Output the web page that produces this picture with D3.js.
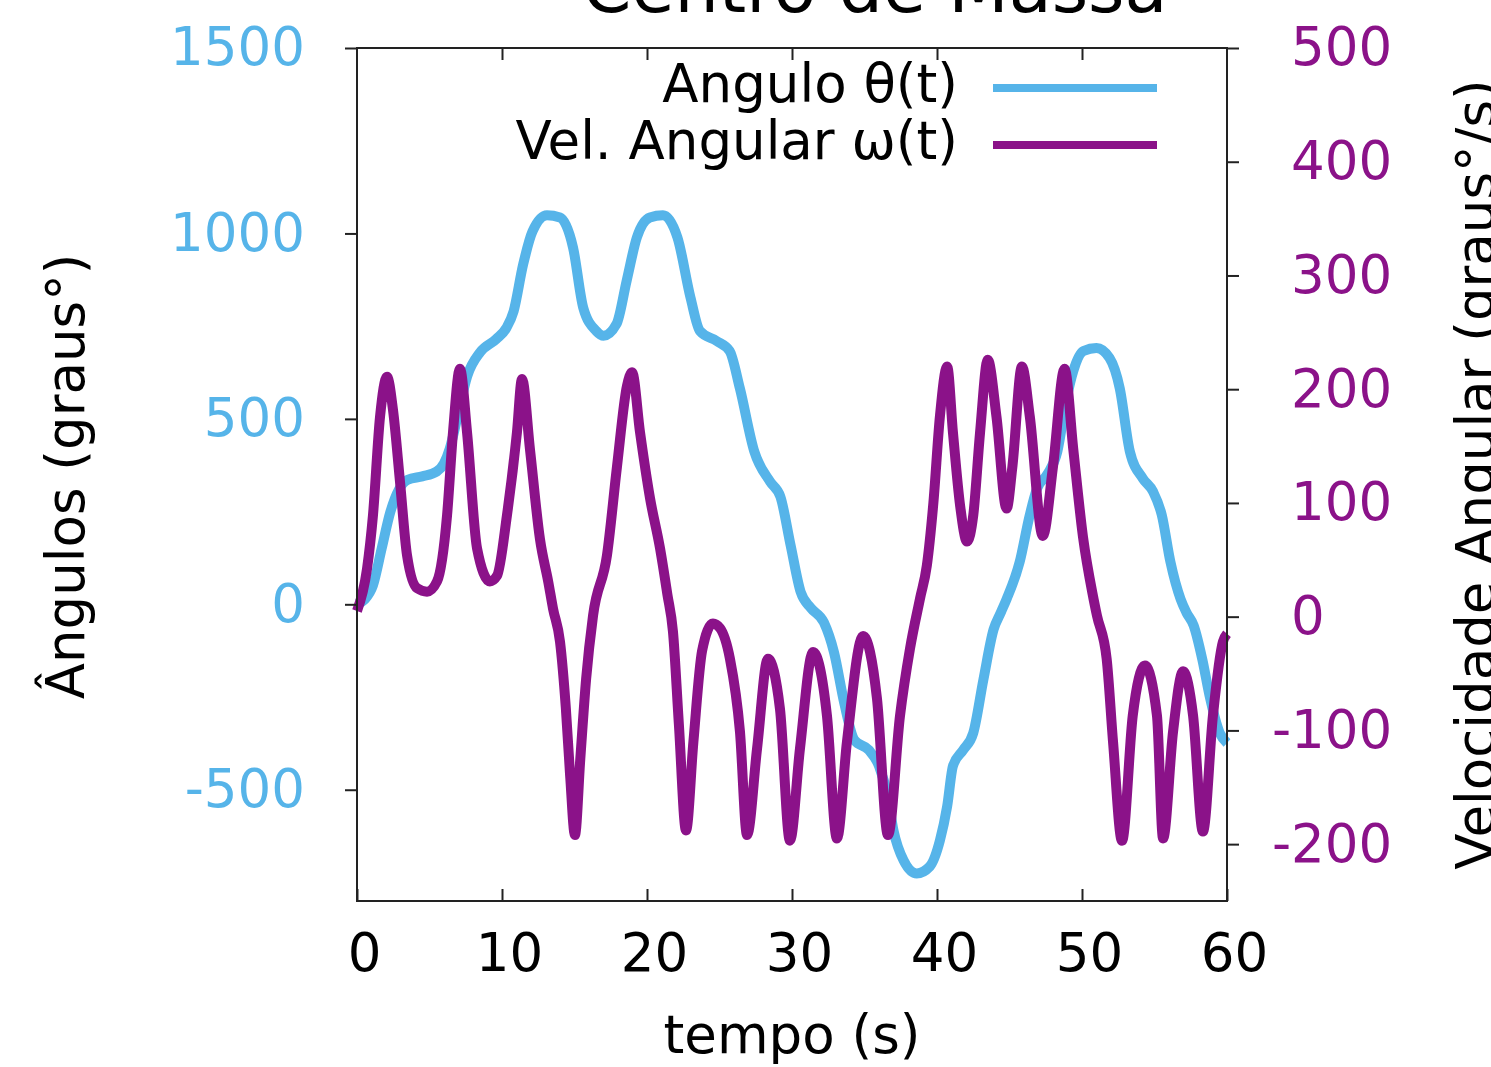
<!DOCTYPE html>
<html>
<head>
<meta charset="utf-8">
<script src="https://cdn.jsdelivr.net/npm/d3@7"></script>
<style>
  body { margin: 0; background: #fff; }
  svg { display: block; font-family: "DejaVu Sans", sans-serif; }
</style>
</head>
<body>
<svg id="chart" width="1491" height="1067"></svg>
<script>
// tempo (s) e ângulo θ(t)
const tTheta = [0, 0.5, 1.1, 1.7, 2.3, 2.9, 3.5, 4.5, 5.5, 6.0,
    6.4, 6.9, 7.6, 8.5, 9.6, 10.3, 10.8, 11.45, 12.1, 13.1,
    14.0, 14.9, 15.6, 16.5, 17.0, 17.9, 18.6, 19.3, 20.2, 21.1,
    22.1, 23.0, 23.65, 24.8, 25.7, 26.4, 27.4, 28.5, 29.2, 29.9,
    30.6, 31.3, 32.2, 32.9, 33.6, 34.3, 35.3, 36.0, 36.6, 37.0,
    37.7, 38.6, 39.5, 40.2, 40.7, 41.1, 41.8, 42.5, 43.2, 43.9,
    44.4, 44.8, 45.7, 46.4, 46.9, 47.6, 48.3, 48.9, 49.4, 50.1,
    51.0, 51.9, 52.6, 53.3, 54.2, 54.9, 55.5, 56.1, 56.8, 57.2,
    57.7, 58.3, 58.8, 59.5, 60];
const theta = [0, 12, 51, 150, 249, 310, 336, 345, 358, 380,
    420, 500, 615, 680, 715, 745, 790, 915, 1005, 1049,
    1043, 962, 800, 737, 724, 756, 873, 989, 1043, 1049,
    989, 827, 737, 710, 683, 583, 412, 330, 290, 160,
    33, -10, -49, -130, -266, -366, -393, -436, -518, -610,
    -691, -726, -707, -637, -545, -436, -393, -347, -203, -68,
    -22, 14, 114, 241, 312, 350, 412, 547, 629, 683,
    691, 664, 583, 412, 339, 304, 241, 114, 14, -22,
    -57, -149, -247, -347, -374];

// tempo (s) e velocidade angular ω(t)
const tOmega = [0, 0.69, 1.1, 1.59, 2.07, 2.48, 2.97, 3.45, 4.14, 4.83,
    5.52, 6.21, 6.62, 7.10, 7.59, 8.28, 9.17, 9.66, 10.34, 11.03,
    11.38, 11.93, 12.62, 13.2, 13.52, 14.0, 14.4, 14.7, 15.03, 15.4,
    15.8, 16.28, 17.24, 17.93, 18.62, 18.97, 19.52, 20.21, 20.9, 21.4,
    21.79, 22.2, 22.69, 23.2, 23.8, 24.55, 25.03, 25.72, 26.41, 26.9,
    27.59, 28.34, 29.17, 29.86, 30.55, 31.45, 32.41, 33.1, 33.79, 34.9,
    35.86, 36.62, 37.45, 38.14, 38.83, 39.3, 39.75, 40.2, 40.7, 41.1,
    41.6, 42.07, 42.5, 42.97, 43.5, 44.1, 44.8, 45.2, 45.86, 46.4,
    47.3, 48.0, 48.8, 49.4, 50.07, 50.76, 51.03, 51.7, 52.14, 52.76,
    53.5, 54.34, 55.17, 55.59, 56.28, 56.97, 57.66, 58.34, 59.03, 59.72,
    60];
const omega = [5, 42, 89, 176, 211, 182, 118, 54, 25, 22,
    31, 89, 162, 218, 162, 60, 31, 36, 89, 162,
    209, 147, 68, 30, 7, -22, -80, -140, -192, -125,
    -55, 1, 54, 132, 203, 215, 162, 104, 60, 20,
    -13, -95, -188, -110, -30, -6, -10, -37, -101, -192,
    -116, -37, -81, -197, -116, -31, -87, -195, -110, -17,
    -72, -192, -87, -28, 16, 45, 100, 176, 220, 162,
    97, 66, 89, 162, 226, 176, 95, 132, 220, 176,
    71, 132, 218, 147, 70, 18, 1, -37, -110, -197,
    -87, -43, -87, -195, -101, -48, -87, -189, -87, -22,
    -15];

const xTicks = [0, 10, 20, 30, 40, 50, 60];
const yLeftTicks = [-500, 0, 500, 1000, 1500];
const yRightTicks = [-200, -100, 0, 100, 200, 300, 400, 500];

const series = [
    { name: "Angulo θ(t)", t: tTheta, v: theta, color: "#56b4e9", axis: "left" },
    { name: "Vel. Angular ω(t)", t: tOmega, v: omega, color: "#8b1289", axis: "right" }
];

const svg = d3.select("#chart");
const fs = 53;
const mLeft = 357, mRight = 1227, mTop = 48, mBottom = 901;

const x = d3.scaleLinear().domain([0, 60]).range([mLeft, mRight]);
const yL = d3.scaleLinear().domain([-800, 1500]).range([mBottom, mTop]);
const yR = d3.scaleLinear().domain([-250, 500]).range([mBottom, mTop]);

// linhas
series.forEach(s => {
    const y = s.axis === "left" ? yL : yR;
    const line = d3.line()
        .x((d, i) => x(s.t[i]))
        .y((d, i) => y(s.v[i]))
        .curve(d3.curveMonotoneX);
    svg.append("path")
        .datum(s.v)
        .attr("d", line)
        .attr("fill", "none")
        .attr("stroke", s.color)
        .attr("stroke-width", 10)
        .attr("stroke-linejoin", "round");
});

// moldura
svg.append("rect")
    .attr("x", mLeft).attr("y", mTop)
    .attr("width", mRight - mLeft).attr("height", mBottom - mTop)
    .attr("fill", "none").attr("stroke", "#222").attr("stroke-width", 2);

const fmt = d => String(d);

const gx = svg.append("g")
    .attr("transform", `translate(0,${mBottom})`)
    .call(d3.axisBottom(x).tickValues(xTicks).tickFormat(fmt).tickSizeInner(-12).tickSizeOuter(0).tickPadding(32));
gx.selectAll("text").attr("dx", 7);

svg.append("g")
    .attr("transform", `translate(0,${mTop})`)
    .call(d3.axisTop(x).tickValues(xTicks.slice(1, -1)).tickFormat("").tickSizeInner(-12).tickSizeOuter(0));

const gl = svg.append("g")
    .attr("transform", `translate(${mLeft},0)`)
    .call(d3.axisLeft(yL).tickValues(yLeftTicks).tickFormat(fmt).tickSize(12).tickPadding(40));
gl.selectAll("text").attr("fill", "#56b4e9");

const gr = svg.append("g")
    .attr("transform", `translate(${mRight},0)`)
    .call(d3.axisRight(yR).tickValues(yRightTicks).tickFormat(fmt).tickSize(12).tickPadding(52));
gr.selectAll("text").attr("fill", "#8b1289").attr("dx", d => d < 0 ? "-0.36em" : 0);

svg.selectAll(".domain").remove();
svg.selectAll(".tick line").attr("stroke", "#222").attr("stroke-width", 2);
svg.selectAll(".tick text").attr("font-size", fs).attr("font-family", "DejaVu Sans");
gx.selectAll("text").attr("fill", "#000");

// títulos
svg.append("text")
    .attr("x", 875).attr("y", 12)
    .attr("text-anchor", "middle")
    .attr("font-size", 70)
    .text("Centro de Massa");

svg.append("text")
    .attr("x", (mLeft + mRight) / 2).attr("y", 1053)
    .attr("text-anchor", "middle")
    .attr("font-size", fs)
    .text("tempo (s)");

svg.append("text")
    .attr("transform", `translate(84,${(mTop + mBottom) / 2 + 2}) rotate(-90)`)
    .attr("text-anchor", "middle")
    .attr("font-size", fs)
    .text("Ângulos (graus°)");

svg.append("text")
    .attr("transform", `translate(1494,${(mTop + mBottom) / 2}) rotate(-90)`)
    .attr("text-anchor", "middle")
    .attr("font-size", fs)
    .text("Velocidade Angular (graus°/s)");

// legenda
const key = svg.append("g").selectAll("g")
    .data(series)
    .enter()
    .append("g")
    .attr("transform", (d, i) => `translate(0,${88 + i * 57})`);
key.append("text")
    .attr("x", 958).attr("y", 14)
    .attr("text-anchor", "end")
    .attr("font-size", fs)
    .text(d => d.name);
key.append("line")
    .attr("x1", 993).attr("x2", 1157)
    .attr("stroke", d => d.color)
    .attr("stroke-width", 8);
</script>
</body>
</html>
